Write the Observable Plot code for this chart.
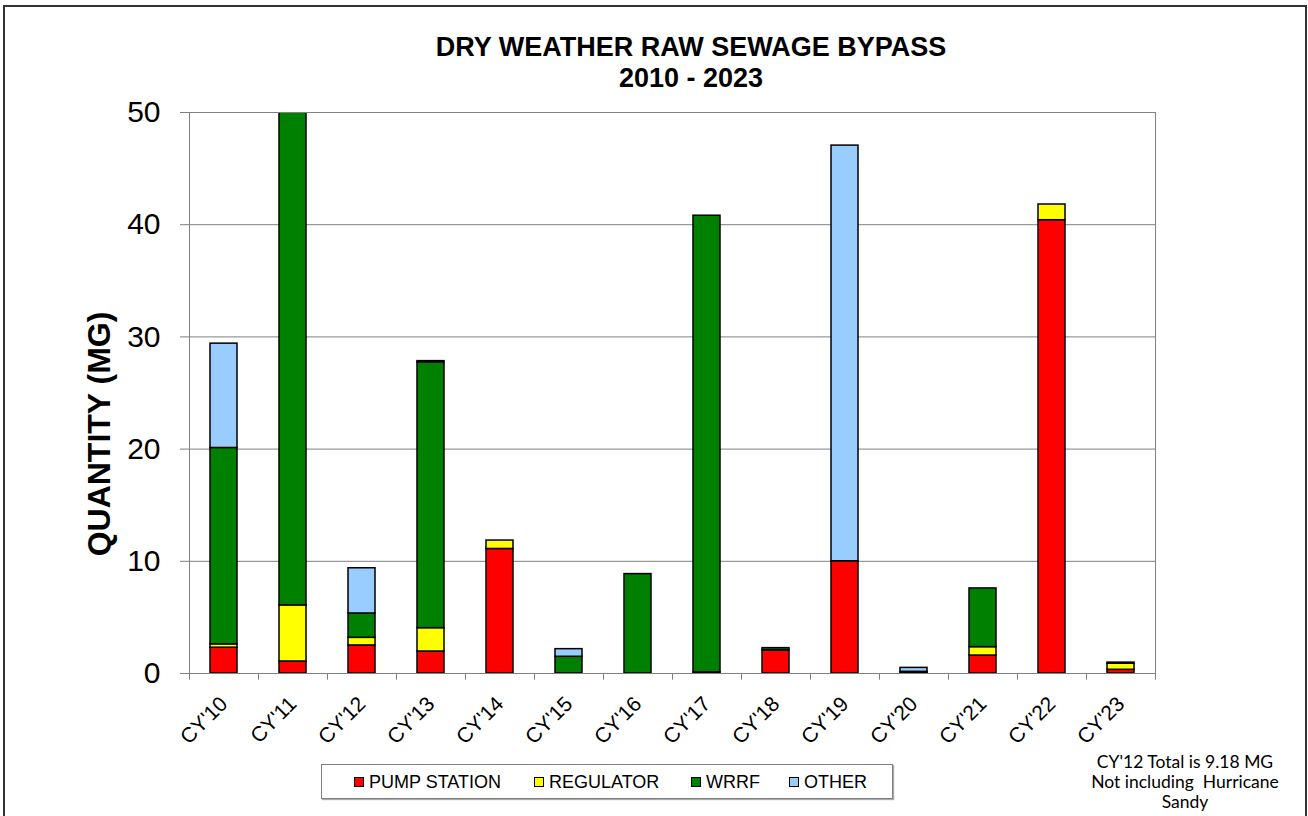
<!DOCTYPE html>
<html>
<head>
<meta charset="utf-8">
<script src="https://cdn.jsdelivr.net/npm/d3@7"></script>
<script src="https://cdn.jsdelivr.net/npm/@observablehq/plot@0.6"></script>
<style>
  html, body { margin: 0; padding: 0; background: #fff; }
  #wrap { position: relative; width: 1308px; height: 816px; overflow: hidden; font-family: "Liberation Sans", Arial, sans-serif; }
  #frame { position: absolute; left: 3px; top: 5px; width: 1300px; height: 840px; border: 2px solid #333; }
  #title { position: absolute; left: 341px; width: 700px; top: 32px; text-align: center; font-weight: bold; font-size: 27px; line-height: 31px; color: #000; }
  #chart { position: absolute; left: 0; top: 0; }
  #ytitle { position: absolute; left: 99px; top: 434px; width: 400px; margin-left: -200px; margin-top: -20px; height: 40px; line-height: 40px; text-align: center; transform: rotate(-90deg); font-weight: bold; font-size: 32px; color: #000; white-space: nowrap; }
  #legend { position: absolute; left: 321px; top: 764px; width: 570px; height: 33px; border: 1px solid #808080; box-shadow: 1px 1px 1px #aaa; background: #fff; }
  .item { position: absolute; top: 6px; font-size: 18px; line-height: 22px; color: #000; white-space: nowrap; }
  .sw { display: inline-block; width: 8px; height: 8px; border: 1px solid #000; margin-right: 5px; vertical-align: 1px; }
  #note { position: absolute; left: 1075px; width: 220px; top: 752px; text-align: center; font-family: Lato, "Open Sans", sans-serif; font-size: 17.5px; line-height: 20px; color: #000; }
</style>
</head>
<body>
<div id="wrap">
  <div id="frame"></div>
  <div id="chart"></div>
  <div id="title">DRY WEATHER RAW SEWAGE BYPASS<br>2010 - 2023</div>
  <div id="ytitle"></div>
  <div id="legend"></div>
  <div id="note">CY'12 Total is 9.18 MG<br>Not including&nbsp; Hurricane<br>Sandy</div>
</div>
<script>
const categories = ["CY'10","CY'11","CY'12","CY'13","CY'14","CY'15","CY'16","CY'17","CY'18","CY'19","CY'20","CY'21","CY'22","CY'23"];
const seriesNames = ["PUMP STATION","REGULATOR","WRRF","OTHER"];
const seriesColors = ["#FF0000","#FFFF00","#008000","#99CCFF"];
const pumpStation = [2.3, 1.07, 2.5, 1.96, 11.1, 0, 0, 0.1, 2.06, 10.0, 0.05, 1.6, 40.4, 0.33];
const regulator   = [0.3, 5.0, 0.68, 2.08, 0.75, 0, 0, 0, 0, 0, 0, 0.75, 1.4, 0.54];
const wrrf        = [17.5, 44.9, 2.17, 23.7, 0, 1.49, 8.86, 40.7, 0.2, 0, 0.1, 5.23, 0, 0.1];
const other       = [9.3, 0, 4.03, 0.1, 0, 0.68, 0, 0, 0, 37.05, 0.35, 0, 0, 0];
const yTicks = [0, 10, 20, 30, 40, 50];
const yTitle = "QUANTITY (MG)";

document.getElementById("ytitle").textContent = yTitle;

const seriesValues = [pumpStation, regulator, wrrf, other];
const table = [];
categories.forEach((c, i) => {
  seriesNames.forEach((s, j) => {
    table.push({category: c, series: s, value: seriesValues[j][i]});
  });
});

const chart = Plot.plot({
  width: 1308,
  height: 760,
  marginLeft: 189,
  marginRight: 153,
  marginTop: 112,
  marginBottom: 87,
  style: {fontFamily: "'Liberation Sans', Arial, sans-serif", background: "transparent", overflow: "visible"},
  x: {domain: categories, paddingInner: 0.61, paddingOuter: 0.305, label: null},
  y: {domain: [0, 50], label: null},
  color: {domain: seriesNames, range: seriesColors},
  marks: [
    Plot.gridY(yTicks, {stroke: "#808080", strokeOpacity: 1}),
    Plot.barY(table, Plot.stackY({
      x: "category", y: "value", fill: "series",
      filter: d => d.value > 0,
      stroke: "#000", strokeWidth: 1.5, clip: true
    })),
    Plot.frame({stroke: "#808080"}),
    Plot.axisY(yTicks, {tickSize: 9, tickPadding: 20, fontSize: 30, stroke: "#808080", label: null, tickFormat: d => d}),
    Plot.ruleX(categories, {x: d => d, dx: -34.5, y1: 0, y2: -0.6, stroke: "#808080"}),
    Plot.ruleX(categories.slice(-1), {x: d => d, dx: 34.5, y1: 0, y2: -0.6, stroke: "#808080"}),
    Plot.axisX({tickSize: 0, tickPadding: 27, tickRotate: -45, fontSize: 21, label: null})
  ]
});
document.getElementById("chart").appendChild(chart);

const legend = document.getElementById("legend");
const lefts = [32, 212, 369, 467];
seriesNames.forEach((s, j) => {
  const it = document.createElement("div");
  it.className = "item";
  it.style.left = lefts[j] + "px";
  it.innerHTML = `<span class="sw" style="background:${seriesColors[j]}"></span>${s}`;
  legend.appendChild(it);
});
</script>
</body>
</html>
